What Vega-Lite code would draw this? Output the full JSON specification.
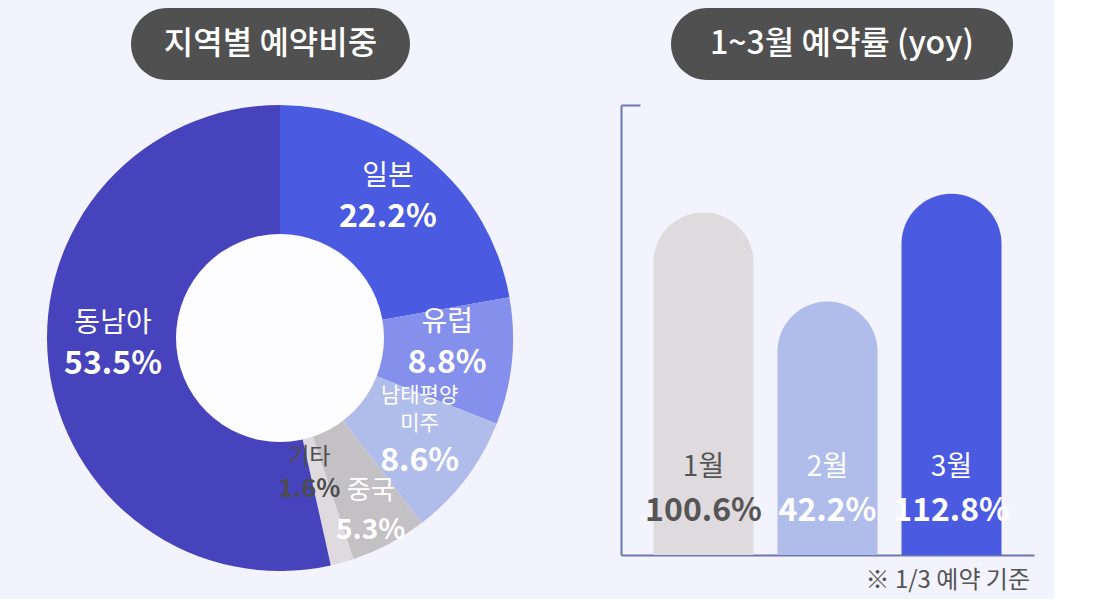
{
  "$schema": "https://vega.github.io/schema/vega-lite/v6.json",
  "background": "#f3f3fd",
  "padding": {"top": 8, "left": 47, "right": 20, "bottom": 6},
  "config": {
    "view": {"stroke": null},
    "font": "Noto Sans CJK KR"
  },
  "datasets": {
    "share": [
      {"order": 1, "region": "일본", "name": "일본", "pct": 0.222},
      {"order": 2, "region": "유럽", "name": "유럽", "pct": 0.088},
      {"order": 3, "region": "남태평양미주", "name": "남태평양\n미주", "pct": 0.086},
      {"order": 4, "region": "중국", "name": "중국", "pct": 0.053},
      {"order": 5, "region": "기타", "name": "기타", "pct": 0.016},
      {"order": 6, "region": "동남아", "name": "동남아", "pct": 0.535}
    ],
    "yoy": [
      {"order": 1, "month": "1월", "rate": 1.006},
      {"order": 2, "month": "2월", "rate": 0.422},
      {"order": 3, "month": "3월", "rate": 1.128}
    ]
  },
  "spacing": 24,
  "vconcat": [
    {
      "spacing": 0,
      "hconcat": [
        {
          "width": 84,
          "height": 72,
          "data": {"values": [{}]},
          "mark": {"type": "text", "text": ""},
          "encoding": {}
        },
        {
          "spacing": 261,
          "hconcat": [
            {
              "width": 279,
              "height": 72,
              "data": {"values": [{"t": "지역별 예약비중"}]},
              "layer": [
                {"mark": {"type": "rect", "cornerRadius": 36, "color": "#505050"}, "encoding": {}},
                {
                  "mark": {"type": "text", "color": "white", "fontSize": 32, "fontWeight": 500, "baseline": "middle"},
                  "encoding": {"text": {"field": "t"}}
                }
              ]
            },
            {
              "width": 342,
              "height": 72,
              "data": {"values": [{"t": "1~3월 예약률 (yoy)"}]},
              "layer": [
                {"mark": {"type": "rect", "cornerRadius": 36, "color": "#505050"}, "encoding": {}},
                {
                  "mark": {"type": "text", "color": "white", "fontSize": 32, "fontWeight": 500, "baseline": "middle"},
                  "encoding": {"text": {"field": "t"}}
                }
              ]
            }
          ]
        }
      ]
    },
    {
      "spacing": 107,
      "resolve": {"scale": {"color": "independent"}},
      "hconcat": [
        {
          "width": 466,
          "height": 466,
          "data": {"name": "share"},
          "encoding": {
            "theta": {"field": "pct", "type": "quantitative", "stack": true},
            "order": {"field": "order"}
          },
          "layer": [
            {
              "mark": {"type": "arc", "outerRadius": 233, "innerRadius": 0},
              "encoding": {
                "color": {
                  "field": "region",
                  "type": "nominal",
                  "scale": {
                    "domain": ["일본", "유럽", "남태평양미주", "중국", "기타", "동남아"],
                    "range": ["#4a5ae1", "#8590ed", "#b0bdea", "#c4c1c5", "#dedadd", "#4743bc"]
                  },
                  "legend": null
                }
              }
            },
            {
              "data": {"values": [{"pct": 1}]},
              "mark": {"type": "arc", "outerRadius": 104, "color": "#fdfcff"}
            },
            {
              "mark": {"type": "text", "radius": 168, "baseline": "bottom", "dy": -18, "fontSize": 28, "color": "white"},
              "encoding": {
                "text": {"condition": {"test": "indexof(['일본','유럽','동남아'], datum.region) < 0", "value": ""}, "field": "name"}
              }
            },
            {
              "mark": {"type": "text", "radius": 168, "baseline": "top", "dy": -7, "fontSize": 32, "fontWeight": "bold", "color": "white"},
              "encoding": {
                "text": {"condition": {"test": "indexof(['일본','유럽','동남아'], datum.region) < 0", "value": ""}, "field": "pct", "format": ".1%"}
              }
            },
            {
              "mark": {"type": "text", "radius": 175, "baseline": "bottom", "lineBreak": "\n", "lineHeight": 28, "dy": -38, "fontSize": 21, "color": "white"},
              "encoding": {
                "text": {"condition": {"test": "datum.region !== '남태평양미주'", "value": ""}, "field": "name"}
              }
            },
            {
              "mark": {"type": "text", "radius": 175, "baseline": "top", "dy": 2, "fontSize": 32, "fontWeight": "bold", "color": "white"},
              "encoding": {
                "text": {"condition": {"test": "datum.region !== '남태평양미주'", "value": ""}, "field": "pct", "format": ".1%"}
              }
            },
            {
              "mark": {"type": "text", "radius": 198, "baseline": "bottom", "dx": -2, "dy": -9, "fontSize": 26, "color": "white"},
              "encoding": {
                "text": {"condition": {"test": "datum.region !== '중국'", "value": ""}, "field": "name"}
              }
            },
            {
              "mark": {"type": "text", "radius": 198, "baseline": "top", "dx": -2, "dy": 4, "fontSize": 28, "fontWeight": "bold", "color": "white"},
              "encoding": {
                "text": {"condition": {"test": "datum.region !== '중국'", "value": ""}, "field": "pct", "format": ".1%"}
              }
            },
            {
              "mark": {"type": "text", "radius": 140, "baseline": "bottom", "dx": -8, "dy": -4, "fontSize": 23, "color": "#4d4d4d"},
              "encoding": {
                "text": {"condition": {"test": "datum.region !== '기타'", "value": ""}, "field": "name"}
              }
            },
            {
              "mark": {"type": "text", "radius": 140, "baseline": "top", "dx": -8, "dy": 4, "fontSize": 25, "fontWeight": "bold", "color": "#4d4d4d"},
              "encoding": {
                "text": {"condition": {"test": "datum.region !== '기타'", "value": ""}, "field": "pct", "format": ".1%"}
              }
            }
          ]
        },
        {
          "width": 413,
          "height": 450,
          "data": {"name": "yoy"},
          "title": {
            "text": "※ 1/3 예약 기준",
            "orient": "bottom",
            "anchor": "end",
            "fontSize": 24,
            "fontWeight": "normal",
            "color": "#555555",
            "offset": 14,
            "dx": -4
          },
          "encoding": {
            "x": {
              "field": "month",
              "type": "nominal",
              "sort": {"field": "order"},
              "scale": {"paddingInner": 0.1935, "paddingOuter": 0.262},
              "axis": {"title": null, "labels": false, "ticks": false, "domainColor": "#6c76b2", "domainWidth": 2}
            }
          },
          "layer": [
            {
              "mark": {"type": "bar", "cornerRadiusTopLeft": 50, "cornerRadiusTopRight": 50},
              "encoding": {
                "y": {
                  "field": "rate",
                  "type": "quantitative",
                  "scale": {"domain": [-1.24, 1.71], "nice": false, "zero": false},
                  "axis": {
                    "title": null,
                    "labels": false,
                    "grid": false,
                    "values": [1.71],
                    "tickSize": -19,
                    "tickColor": "#6c76b2",
                    "tickWidth": 2,
                    "domainColor": "#6c76b2",
                    "domainWidth": 2
                  }
                },
                "y2": {"datum": -1.24},
                "color": {
                  "field": "month",
                  "type": "nominal",
                  "scale": {"domain": ["1월", "2월", "3월"], "range": ["#dedadd", "#b0bdea", "#4a5ae1"]},
                  "legend": null
                }
              }
            },
            {
              "mark": {"type": "text", "fontSize": 28, "baseline": "middle", "dy": -87},
              "encoding": {
                "y": {"datum": -1.24},
                "text": {"field": "month"},
                "color": {"condition": {"test": "datum.month === '1월'", "value": "#555555"}, "value": "white"}
              }
            },
            {
              "mark": {"type": "text", "fontSize": 32, "fontWeight": "bold", "baseline": "middle", "dy": -44},
              "encoding": {
                "y": {"datum": -1.24},
                "text": {"field": "rate", "format": ".1%"},
                "color": {"condition": {"test": "datum.month === '1월'", "value": "#555555"}, "value": "white"}
              }
            }
          ]
        }
      ]
    }
  ]
}
